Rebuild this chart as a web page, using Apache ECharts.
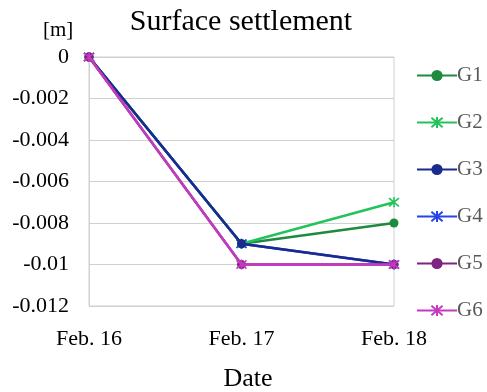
<!DOCTYPE html>
<html>
<head>
<meta charset="utf-8">
<script src="https://cdn.jsdelivr.net/npm/echarts@6/dist/echarts.min.js"></script>
<style>
  html, body { margin: 0; padding: 0; background: #fff; }
  #chart { width: 487px; height: 392px; }
</style>
</head>
<body>
<div id="chart"></div>
<script>
// Surface settlement per gauge point, metres
const dates = ['Feb. 16', 'Feb. 17', 'Feb. 18'];
const seriesNames = ['G1', 'G2', 'G3', 'G4', 'G5', 'G6'];
const G1 = [0, -0.009, -0.008];
const G2 = [0, -0.009, -0.007];
const G3 = [0, -0.009, -0.010];
const G4 = [0, -0.009, -0.010];
const G5 = [0, -0.010, -0.010];
const G6 = [0, -0.010, -0.010];
const yTicks = { min: -0.012, max: 0, step: 0.002 };

const values = [G1, G2, G3, G4, G5, G6];
const colors = ['#1f8a3f', '#22c35a', '#1a2b8c', '#2446e6', '#7e2381', '#c43abf'];
// drawing order: G4 sits beneath G3
const layers = [2, 3, 5, 4, 6, 7];
const asterisk = 'path://M0 0L10 10M10 0L0 10M5 -1L5 11';
const symbols = ['circle', asterisk, 'circle', asterisk, 'circle', asterisk];
const FONT = '"Liberation Serif", "Times New Roman", serif';

const chart = echarts.init(document.getElementById('chart'));
chart.setOption({
  animation: false,
  backgroundColor: '#fff',
  textStyle: { fontFamily: FONT },
  title: [
    { text: 'Surface settlement', left: 241, top: 7, padding: 0, textAlign: 'center',
      textStyle: { fontFamily: FONT, fontSize: 30, fontWeight: 'normal', color: '#000' } },
    { text: '[m]', left: 43, top: 20, padding: 0,
      textStyle: { fontFamily: FONT, fontSize: 21, fontWeight: 'normal', color: '#000' } },
    { text: 'Date', left: 248, top: 366, padding: 0, textAlign: 'center',
      textStyle: { fontFamily: FONT, fontSize: 26, fontWeight: 'normal', color: '#000' } }
  ],
  grid: { left: 89, right: 93, top: 57, bottom: 86, show: true,
          borderColor: '#d0d0d0', borderWidth: 1, backgroundColor: 'transparent' },
  legend: {
    orient: 'vertical', left: 411, top: 60, itemGap: 26,
    itemWidth: 40, itemHeight: 14,
    textStyle: { fontFamily: FONT, fontSize: 21, color: '#595959', padding: [0, 0, 0, -5] },
    data: seriesNames
  },
  xAxis: {
    type: 'category', data: dates, boundaryGap: false,
    axisLine: { lineStyle: { color: '#d0d0d0' } },
    axisTick: { show: false },
    axisLabel: { color: '#000', fontSize: 22, fontFamily: FONT, margin: 22 },
    splitLine: { show: false }
  },
  yAxis: {
    type: 'value', min: yTicks.min, max: yTicks.max, interval: yTicks.step,
    axisLine: { show: true, lineStyle: { color: '#d0d0d0' } },
    axisTick: { show: false },
    axisLabel: { color: '#000', fontSize: 22, fontFamily: FONT, margin: 20,
                 formatter: v => String(parseFloat(v.toFixed(3))) },
    splitLine: { lineStyle: { color: '#d0d0d0' } }
  },
  series: seriesNames.map((name, i) => ({
    name, type: 'line', data: values[i],
    symbol: symbols[i], symbolSize: symbols[i] === 'circle' ? 9 : 10,
    showAllSymbol: true,
    lineStyle: { color: colors[i], width: 2.5 },
    itemStyle: symbols[i] === 'circle'
      ? { color: colors[i] }
      : { color: colors[i], borderColor: colors[i], borderWidth: 1.6 },
    z: layers[i]
  }))
});
</script>
</body>
</html>
